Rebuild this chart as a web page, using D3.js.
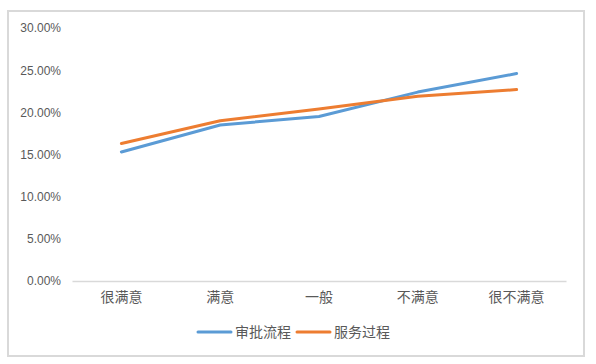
<!DOCTYPE html>
<html>
<head>
<meta charset="utf-8">
<script src="https://cdn.jsdelivr.net/npm/d3@7"></script>
<style>
  body { margin: 0; background: #fff; }
  svg { display: block; }
  .tick text { fill: #595959; }
</style>
</head>
<body>
<svg id="chart" width="596" height="364"></svg>
<script>
var categories = ["很满意", "满意", "一般", "不满意", "很不满意"];
var seriesNames = ["审批流程", "服务过程"];
var approvalValues = [0.153, 0.185, 0.195, 0.224, 0.246];
var serviceValues = [0.163, 0.19, 0.204, 0.219, 0.227];
var yTicks = [0, 0.05, 0.1, 0.15, 0.2, 0.25, 0.3];
var colors = ["#5b9bd5", "#ed7d31"];

var svg = d3.select("#chart");
var margin = {left: 72, right: 30, top: 28, bottom: 83};
var width = 596 - margin.left - margin.right,
    height = 364 - margin.top - margin.bottom;

// outer frame
svg.append("rect")
    .attr("x", 8).attr("y", 11)
    .attr("width", 576).attr("height", 345)
    .attr("fill", "#fff")
    .attr("stroke", "#d9d9d9")
    .attr("stroke-width", 2);

var g = svg.append("g").attr("transform", "translate(" + margin.left + "," + margin.top + ")");

var x = d3.scaleBand()
    .domain(categories)
    .range([0, width]);

var y = d3.scaleLinear()
    .domain([0, 0.3])
    .range([height, 0]);

// y axis labels only
var yAxis = g.append("g")
    .call(d3.axisLeft(y).tickValues(yTicks).tickSize(0).tickPadding(11)
        .tickFormat(function(d) { return (d * 100).toFixed(2) + "%"; }));
yAxis.select(".domain").remove();
yAxis.selectAll("text")
    .style("font-family", "'Liberation Sans', Arial, sans-serif")
    .style("font-size", "12px");

// x axis
var xAxis = g.append("g")
    .attr("transform", "translate(0," + height + ")")
    .call(d3.axisBottom(x).tickSize(0).tickPadding(11));
xAxis.select(".domain").attr("stroke", "#d9d9d9").attr("stroke-width", 1.5);
xAxis.selectAll("text")
    .style("font-family", "'Noto Sans CJK SC', sans-serif")
    .style("font-size", "14px");

var line = d3.line()
    .x(function(d, i) { return x(categories[i]) + x.bandwidth() / 2; })
    .y(function(d) { return y(d); });

[approvalValues, serviceValues].forEach(function(vals, k) {
    g.append("path")
        .datum(vals)
        .attr("fill", "none")
        .attr("stroke", colors[k])
        .attr("stroke-width", 3)
        .attr("stroke-linecap", "round")
        .attr("stroke-linejoin", "round")
        .attr("d", line);
});

// legend
var legend = svg.append("g").attr("transform", "translate(198,332)");
var lx = 0;
seriesNames.forEach(function(name, k) {
    var item = legend.append("g").attr("transform", "translate(" + lx + ",0)");
    item.append("line")
        .attr("x1", 0).attr("x2", 33)
        .attr("y1", 0).attr("y2", 0)
        .attr("stroke", colors[k])
        .attr("stroke-width", 3)
        .attr("stroke-linecap", "round");
    item.append("text")
        .attr("x", 37).attr("y", 5)
        .attr("fill", "#595959")
        .style("font-family", "'Noto Sans CJK SC', sans-serif")
        .style("font-size", "14px")
        .text(name);
    lx += 99;
});
</script>
</body>
</html>
